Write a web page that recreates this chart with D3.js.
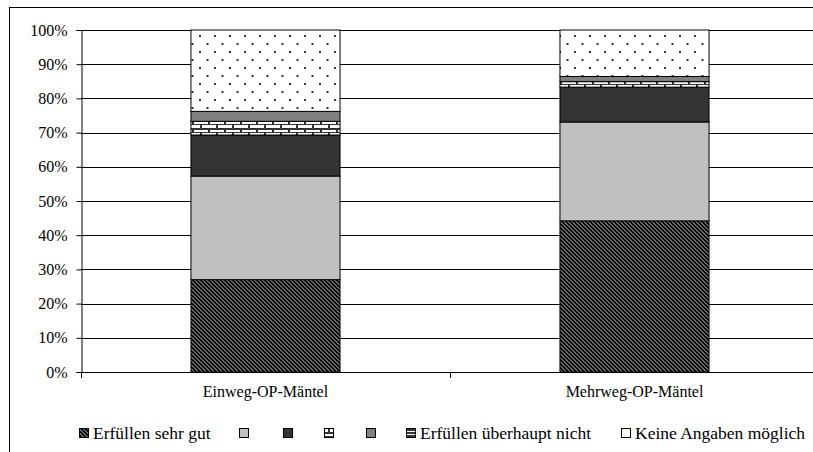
<!DOCTYPE html>
<html>
<head>
<meta charset="utf-8">
<script src="https://cdn.jsdelivr.net/npm/d3@7"></script>
<style>
  html, body { margin: 0; padding: 0; background: #fff; }
  svg { display: block; }
  text { font-family: "Liberation Serif", "Times New Roman", serif; fill: #000; }
</style>
</head>
<body>
<svg id="chart" width="813" height="452"></svg>
<script>
// Categories (gown types) and the answer scale, bottom to top of each stack
const categories = ["Einweg-OP-Mäntel", "Mehrweg-OP-Mäntel"];
const seriesNames = ["Erfüllen sehr gut", "", "", "", "", "Erfüllen überhaupt nicht", "Keine Angaben möglich"];

// Shares in percent, one array per answer, in category order
const sehrGut      = [27.0, 44.2];
const stufe2       = [30.3, 28.9];
const stufe3       = [12.0, 10.2];
const stufe4       = [4.0, 1.6];
const stufe5       = [2.9, 1.5];
const ueberhaupt   = [0.0, 0.0];
const keineAngaben = [23.8, 13.6];

const seriesValues = [sehrGut, stufe2, stufe3, stufe4, stufe5, ueberhaupt, keineAngaben];

const yTicks = [0, 10, 20, 30, 40, 50, 60, 70, 80, 90, 100];

// Fill for each answer (patterns defined below)
const fills = ["url(#hatch)", "#c0c0c0", "#333333", "url(#brick)", "#808080", "url(#hstripe)", "url(#dots)"];

// ---- layout ----
const margin = { left: 81, top: 30, right: 819, bottom: 372 };
const legendIconX = [79, 239, 283, 324, 366, 406, 621];
const legendY = 433;

const svg = d3.select("#chart");
const defs = svg.append("defs");

// dark downward diagonal hatch
const hatch = defs.append("pattern").attr("id", "hatch")
  .attr("patternUnits", "userSpaceOnUse").attr("width", 4).attr("height", 4);
hatch.append("rect").attr("width", 4).attr("height", 4).attr("fill", "#6a6a6a");
for (let y = 0; y < 4; y++) {
  for (const dx of [0, 1]) {
    hatch.append("rect").attr("x", (y + dx) % 4).attr("y", y)
      .attr("width", 1).attr("height", 1).attr("fill", "#000");
  }
}

// horizontal brick
const brick = defs.append("pattern").attr("id", "brick")
  .attr("patternUnits", "userSpaceOnUse").attr("width", 16).attr("height", 8);
brick.append("rect").attr("width", 16).attr("height", 8).attr("fill", "#fff");
brick.append("rect").attr("x", 0).attr("y", 0).attr("width", 16).attr("height", 2).attr("fill", "#333");
brick.append("rect").attr("x", 0).attr("y", 4).attr("width", 16).attr("height", 1).attr("fill", "#333");
brick.append("rect").attr("x", 0).attr("y", 0).attr("width", 2).attr("height", 4).attr("fill", "#333");
brick.append("rect").attr("x", 8).attr("y", 4).attr("width", 2).attr("height", 4).attr("fill", "#333");

// horizontal stripes
const hs = defs.append("pattern").attr("id", "hstripe")
  .attr("patternUnits", "userSpaceOnUse").attr("width", 4).attr("height", 3);
hs.append("rect").attr("width", 4).attr("height", 3).attr("fill", "#333");
hs.append("rect").attr("y", 2).attr("width", 4).attr("height", 1).attr("fill", "#fff");

// sparse staggered dots
const dots = defs.append("pattern").attr("id", "dots")
  .attr("patternUnits", "userSpaceOnUse").attr("width", 15).attr("height", 16);
dots.append("rect").attr("width", 15).attr("height", 16).attr("fill", "#fff");
dots.append("rect").attr("x", 4).attr("y", 3).attr("width", 2).attr("height", 2).attr("fill", "#333");
dots.append("rect").attr("x", 11.5).attr("y", 11).attr("width", 2).attr("height", 2).attr("fill", "#333");

// outer frame
svg.append("rect").attr("x", 9.5).attr("y", 7.5).attr("width", 900).attr("height", 600)
  .attr("fill", "none").attr("stroke", "#000").attr("stroke-width", 1);

// scales
const x = d3.scaleBand().domain(categories)
  .range([margin.left, margin.right]).paddingInner(0.596).paddingOuter(0.298);
const y = d3.scaleLinear().domain([0, 100]).range([margin.bottom, margin.top]);

// gridlines
svg.append("g").selectAll("line").data(yTicks.filter(d => d > 0)).join("line")
  .attr("x1", margin.left).attr("x2", 830)
  .attr("y1", d => Math.round(y(d)) + 0.5).attr("y2", d => Math.round(y(d)) + 0.5)
  .attr("stroke", "#000").attr("stroke-width", 1);

// stacked data
const rows = categories.map((c, i) => {
  const r = { cat: c };
  seriesValues.forEach((arr, s) => r["s" + s] = arr[i]);
  return r;
});
const stack = d3.stack().keys(seriesValues.map((_, s) => "s" + s));
const stacked = stack(rows);

const barG = svg.append("g");
stacked.forEach((layer, s) => {
  barG.append("g").selectAll("rect").data(layer).join("rect")
    .attr("x", d => x(d.data.cat))
    .attr("width", x.bandwidth())
    .attr("y", d => y(d[1]))
    .attr("height", d => y(d[0]) - y(d[1]))
    .attr("fill", fills[s])
    .attr("stroke", "#000")
    .attr("stroke-width", 1);
});

// y axis
const yAxis = d3.axisLeft(y).tickValues(yTicks).tickFormat(d => d + "%").tickSize(5).tickPadding(9);
const ya = svg.append("g").attr("transform", `translate(${margin.left + 0.5},0)`).call(yAxis);
ya.attr("font-family", null);
ya.select(".domain").attr("stroke", "#000");
ya.selectAll(".tick line").attr("stroke", "#000");
ya.selectAll("text").attr("font-size", 16);

// x axis with ticks at the category boundaries
svg.append("line").attr("x1", margin.left).attr("x2", 830)
  .attr("y1", margin.bottom + 0.5).attr("y2", margin.bottom + 0.5).attr("stroke", "#000");
const bounds = [margin.left, margin.left + x.step(), margin.left + 2 * x.step()];
svg.append("g").selectAll("line").data(bounds).join("line")
  .attr("x1", d => Math.round(d) + 0.5).attr("x2", d => Math.round(d) + 0.5)
  .attr("y1", margin.bottom).attr("y2", margin.bottom + 6).attr("stroke", "#000");
svg.append("g").selectAll("text").data(categories).join("text")
  .attr("x", d => x(d) + x.bandwidth() / 2)
  .attr("y", 397)
  .attr("text-anchor", "middle")
  .attr("font-size", 16)
  .text(d => d);

// legend
const lg = svg.append("g");
seriesNames.forEach((name, s) => {
  const ix = legendIconX[s];
  lg.append("rect").attr("x", ix + 0.5).attr("y", legendY - 4.5).attr("width", 9).attr("height", 9)
    .attr("fill", fills[s]).attr("stroke", "#000").attr("stroke-width", 1);
  if (name) {
    lg.append("text").attr("x", ix + 14).attr("y", legendY + 5.5)
      .attr("font-size", 17.5).text(name);
  }
});
</script>
</body>
</html>
